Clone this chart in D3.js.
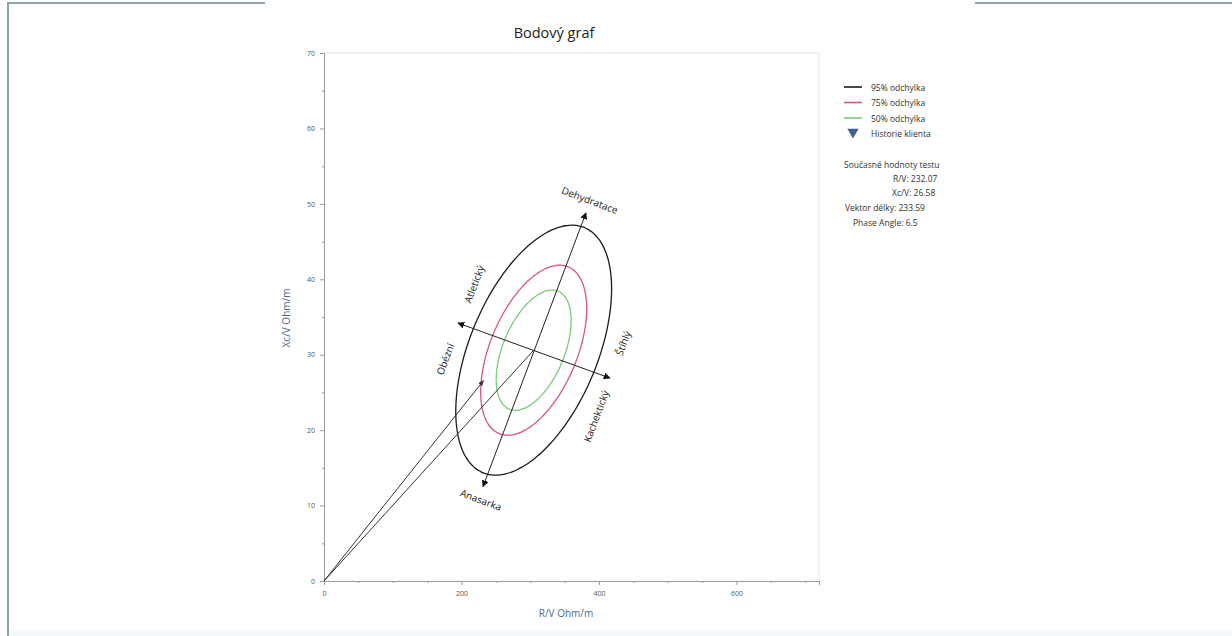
<!DOCTYPE html>
<html>
<head>
<meta charset="utf-8">
<script src="https://cdn.jsdelivr.net/npm/d3@7"></script>
<style>
  html, body { margin: 0; padding: 0; background: #fff; }
  svg { display: block; font-family: "Open Sans", "Noto Sans", sans-serif; }
</style>
</head>
<body>
<svg id="chart" width="1232" height="636"></svg>
<script>
// ---- data -------------------------------------------------------------
const xTicks = [0, 200, 400, 600];
const yTicks = [0, 10, 20, 30, 40, 50, 60, 70];

// reference population (R/V, Xc/V): centre, standard deviations, correlation
const refCenter = [305, 30.6];
const refSd = [46.3, 6.77];
const refCorr = 0.49;

// tolerance ellipses
const ellipseNames = ["95% odchylka", "75% odchylka", "50% odchylka"];
const ellipseLevels = [0.95, 0.75, 0.50];
const ellipseColors = ["#1c1c1c", "#d6587a", "#79cc7c"];

// current test values
const currentRV = 232.07;
const currentXcV = 26.58;
const vectorLength = 233.59;
const phaseAngle = 6.5;

// direction arrows (end points in R/V, Xc/V)
const axisMajor = [[231.3, 12.5], [381.0, 48.8]];   // Anasarka -> Dehydratace
const axisMinor = [[194.9, 34.2], [416.0, 26.9]];   // Obézní -> Kachektický

const historyName = "Historie klienta";
const infoLines = [
  "Současné hodnoty testu",
  "R/V: " + currentRV.toFixed(2),
  "Xc/V: " + currentXcV.toFixed(2),
  "Vektor délky: " + vectorLength.toFixed(2),
  "Phase Angle: " + phaseAngle
];

// ---- layout -----------------------------------------------------------
const svg = d3.select("#chart");
const x = d3.scaleLinear().domain([0, 720]).range([324, 819]);
const y = d3.scaleLinear().domain([0, 70]).range([581, 53]);

// page frame
const frame = svg.append("g").attr("stroke", "#8ea3ae").attr("stroke-width", 2).attr("fill", "none");
frame.append("path").attr("d", "M265,3 H8 V636");
frame.append("path").attr("d", "M975,3 H1232");
svg.append("rect").attr("x", 9).attr("y", 630).attr("width", 1223).attr("height", 6).attr("fill", "#f4fafc");

// title
svg.append("text").attr("x", 554).attr("y", 38).attr("text-anchor", "middle")
  .attr("font-size", 14.5).attr("fill", "#222").text("Bodový graf");

// plot border
svg.append("path").attr("d", `M${x(0)},${y(70)} H${x(720)} V${y(0)}`)
  .attr("fill", "none").attr("stroke", "#e3e3e3").attr("stroke-width", 1);

// axes
const xAxis = svg.append("g").attr("transform", `translate(0,${y(0)})`)
  .call(d3.axisBottom(x).tickValues(xTicks).tickSize(4).tickPadding(6).tickFormat(d3.format("d")));
const yAxis = svg.append("g").attr("transform", `translate(${x(0)},0)`)
  .call(d3.axisLeft(y).tickValues(yTicks).tickSize(4).tickPadding(5).tickFormat(d3.format("d")));
// minor ticks
svg.append("g").attr("transform", `translate(0,${y(0)})`)
  .call(d3.axisBottom(x).tickValues(d3.range(50, 720, 50).filter(v => v % 200 !== 0)).tickSize(2).tickFormat(""));
svg.append("g").attr("transform", `translate(${x(0)},0)`)
  .call(d3.axisLeft(y).tickValues(d3.range(5, 70, 10)).tickSize(2).tickFormat(""));
svg.selectAll(".domain").attr("stroke", "#9a9a9a");
svg.selectAll(".tick line").attr("stroke", "#9a9a9a");
svg.selectAll(".tick text").attr("font-size", 7).attr("fill", "#555").attr("font-family", "Open Sans, sans-serif");
yAxis.select(".domain").attr("stroke", "#c8c8c8");

// axis titles
svg.append("text").attr("x", 566).attr("y", 617).attr("text-anchor", "middle")
  .attr("font-size", 10).attr("fill", "#4d6a93").text("R/V Ohm/m");
svg.append("text").attr("transform", `translate(290,318) rotate(-90)`).attr("text-anchor", "middle")
  .attr("font-size", 10).attr("fill", "#4d6a93").text("Xc/V Ohm/m");

// ---- tolerance ellipses ------------------------------------------------
function ellipsePoints(level) {
  const k = Math.sqrt(-2 * Math.log(1 - level));
  const s = Math.sqrt(1 - refCorr * refCorr);
  return d3.range(0, 361, 3).map(deg => {
    const t = deg * Math.PI / 180;
    return [refCenter[0] + k * refSd[0] * Math.cos(t),
            refCenter[1] + k * refSd[1] * (refCorr * Math.cos(t) + s * Math.sin(t))];
  });
}
const line = d3.line().x(d => x(d[0])).y(d => y(d[1])).curve(d3.curveCardinalClosed);
svg.append("g").selectAll("path").data(ellipseLevels).join("path")
  .attr("d", d => line(ellipsePoints(d)))
  .attr("fill", "none")
  .attr("stroke", (d, i) => ellipseColors[i])
  .attr("stroke-width", 1.3);

// ---- arrows ------------------------------------------------------------
const defs = svg.append("defs");
defs.append("marker").attr("id", "tri").attr("viewBox", "0 0 10 10")
  .attr("refX", 9).attr("refY", 5).attr("markerWidth", 7).attr("markerHeight", 7)
  .attr("markerUnits", "userSpaceOnUse").attr("orient", "auto-start-reverse")
  .append("path").attr("d", "M0,0 L10,5 L0,10 z").attr("fill", "#111");
defs.append("marker").attr("id", "tip").attr("viewBox", "0 0 10 10")
  .attr("refX", 9).attr("refY", 5).attr("markerWidth", 6).attr("markerHeight", 6)
  .attr("markerUnits", "userSpaceOnUse").attr("orient", "auto")
  .append("path").attr("d", "M0,1 L10,5 L0,9 z").attr("fill", "#333");

const arrows = svg.append("g").attr("stroke", "#222").attr("stroke-width", 1).attr("fill", "none");
[axisMajor, axisMinor].forEach(a => {
  arrows.append("line")
    .attr("x1", x(a[0][0])).attr("y1", y(a[0][1]))
    .attr("x2", x(a[1][0])).attr("y2", y(a[1][1]))
    .attr("marker-start", "url(#tri)").attr("marker-end", "url(#tri)");
});
// impedance vectors from the origin
arrows.append("line").attr("x1", x(0)).attr("y1", y(0))
  .attr("x2", x(refCenter[0])).attr("y2", y(refCenter[1])).attr("stroke", "#333");
arrows.append("line").attr("x1", x(0)).attr("y1", y(0))
  .attr("x2", x(currentRV)).attr("y2", y(currentXcV)).attr("stroke", "#333")
  .attr("marker-end", "url(#tip)");

// direction labels
const angMajor = Math.atan2(y(axisMajor[1][1]) - y(axisMajor[0][1]), x(axisMajor[1][0]) - x(axisMajor[0][0])) * 180 / Math.PI;
const labels = [
  { text: "Dehydratace", at: axisMajor[1], dx: 4, dy: -13, rot: angMajor + 90 },
  { text: "Anasarka", at: axisMajor[0], dx: -2, dy: 13, rot: angMajor + 90 },
  { text: "Atletický", at: axisMinor[0], dx: 16, dy: -39, rot: angMajor },
  { text: "Obézní", at: axisMinor[0], dx: -13, dy: 36, rot: angMajor },
  { text: "Štíhlý", at: axisMinor[1], dx: 13, dy: -35, rot: angMajor },
  { text: "Kachektický", at: axisMinor[1], dx: -14, dy: 38, rot: angMajor }
];
svg.append("g").selectAll("text").data(labels).join("text")
  .attr("transform", d => `translate(${x(d.at[0]) + d.dx},${y(d.at[1]) + d.dy}) rotate(${d.rot})`)
  .attr("text-anchor", "middle").attr("dominant-baseline", "central")
  .attr("font-size", 10).attr("fill", "#222").text(d => d.text);

// ---- legend ------------------------------------------------------------
const legend = svg.append("g").attr("font-size", 8.5).attr("fill", "#333");
ellipseNames.forEach((name, i) => {
  const ly = 87 + i * 15.5;
  legend.append("line").attr("x1", 844).attr("x2", 862).attr("y1", ly).attr("y2", ly)
    .attr("stroke", ellipseColors[i]).attr("stroke-width", 1.6);
  legend.append("text").attr("x", 871).attr("y", ly).attr("dominant-baseline", "central").text(name);
});
legend.append("path")
  .attr("d", d3.symbol().type(d3.symbolTriangle).size(55)).attr("transform", "translate(853,132) rotate(180)")
  .attr("fill", "#3e6190");
legend.append("text").attr("x", 871).attr("y", 133).attr("dominant-baseline", "central").text(historyName);

const infoX = [844, 893, 892, 845, 853];
const infoY = [164, 178, 192, 207, 222];
legend.selectAll("text.info").data(infoLines).join("text").attr("class", "info")
  .attr("x", (d, i) => infoX[i]).attr("y", (d, i) => infoY[i])
  .attr("dominant-baseline", "central").text(d => d);
</script>
</body>
</html>
